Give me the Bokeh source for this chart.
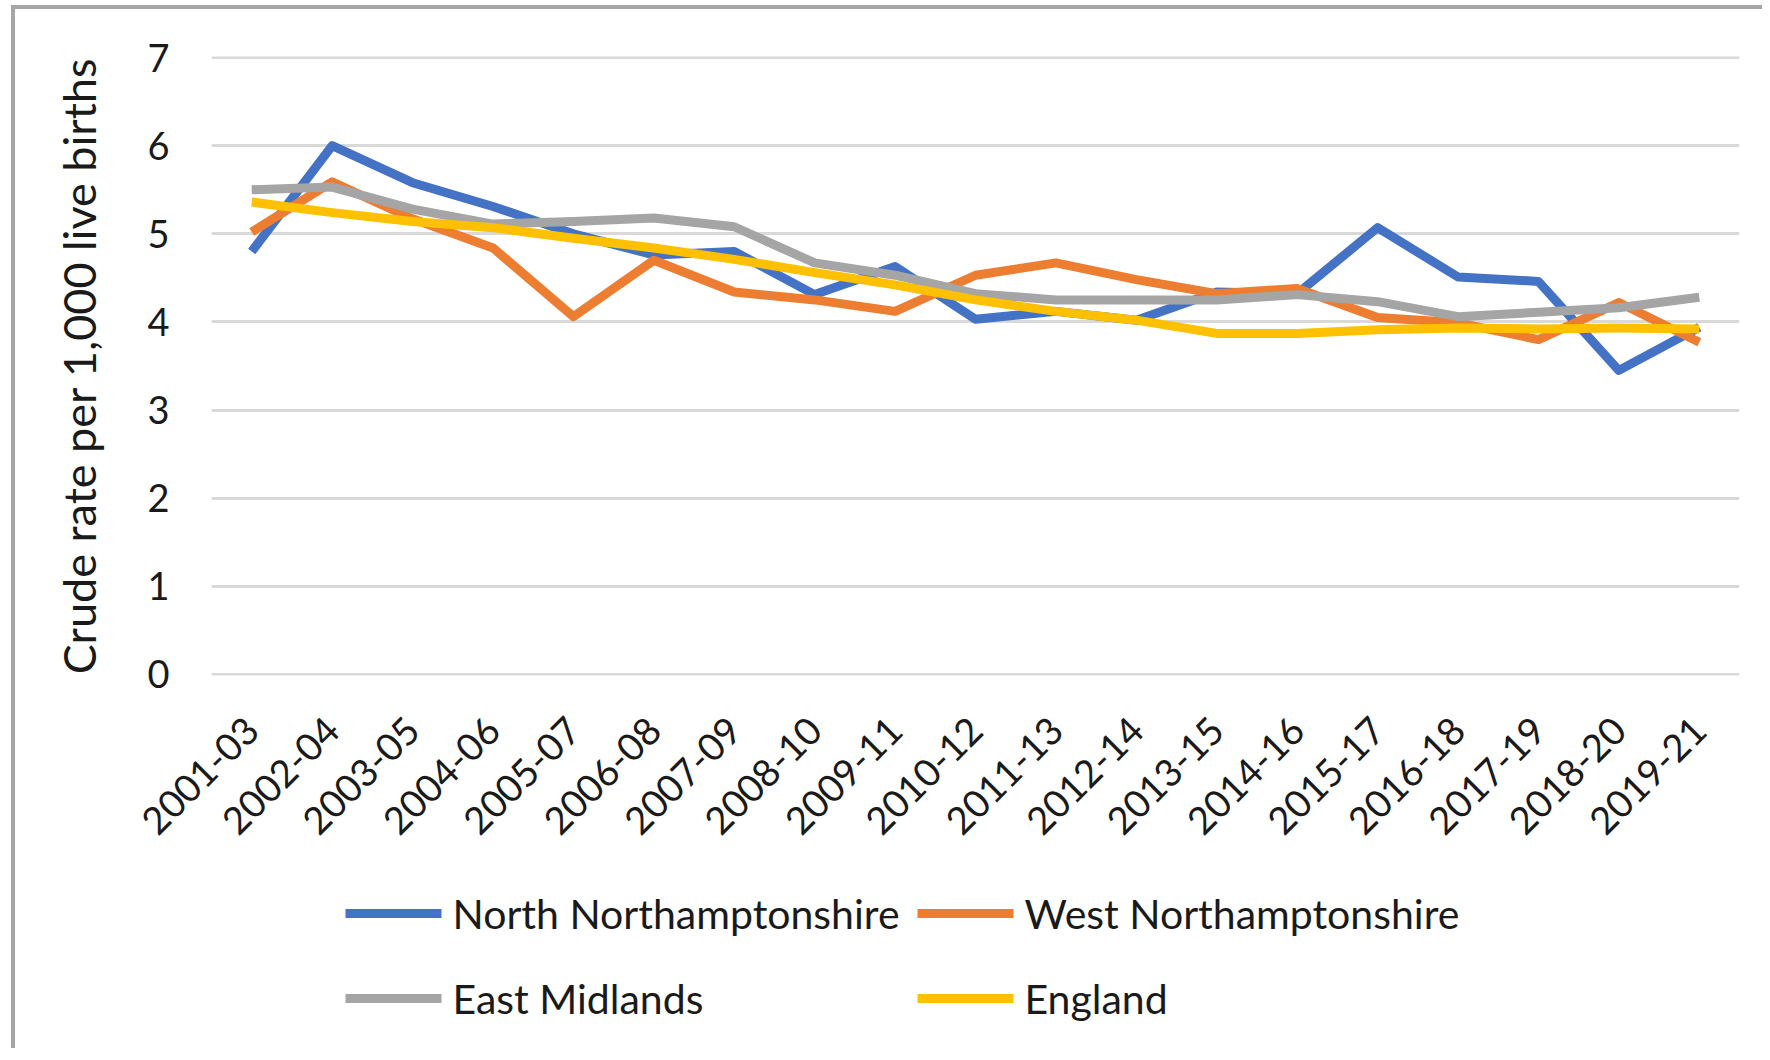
import math
from bokeh.plotting import figure
from bokeh.layouts import column
from bokeh.models import FactorRange, Range1d, FixedTicker
from bokeh.core.properties import value
from bokeh.embed import file_html
from bokeh.resources import INLINE

categories = ["2001-03", "2002-04", "2003-05", "2004-06", "2005-07", "2006-08", "2007-09",
              "2008-10", "2009-11", "2010-12", "2011-13", "2012-14", "2013-15", "2014-16",
              "2015-17", "2016-18", "2017-19", "2018-20", "2019-21"]
north_northants = [4.80, 6.00, 5.58, 5.31, 5.00, 4.76, 4.80, 4.31, 4.63, 4.03, 4.12, 4.02,
                   4.34, 4.32, 5.07, 4.51, 4.46, 3.45, 3.94]
west_northants = [5.02, 5.59, 5.17, 4.84, 4.06, 4.70, 4.34, 4.25, 4.12, 4.53, 4.67, 4.48,
                  4.32, 4.38, 4.05, 3.99, 3.80, 4.22, 3.77]
east_midlands = [5.50, 5.53, 5.28, 5.11, 5.14, 5.18, 5.08, 4.67, 4.53, 4.32, 4.25, 4.25,
                 4.25, 4.31, 4.23, 4.06, 4.11, 4.16, 4.28]
england = [5.36, 5.24, 5.14, 5.07, 4.95, 4.84, 4.71, 4.56, 4.42, 4.25, 4.12, 4.02,
           3.87, 3.87, 3.91, 3.93, 3.92, 3.93, 3.92]
y_ticks = [0, 1, 2, 3, 4, 5, 6, 7]
series_names = ["North Northamptonshire", "West Northamptonshire", "East Midlands", "England"]
series_colors = ["#4472C4", "#ED7D31", "#A5A5A5", "#FFC000"]

FONT = "Lato"
TXT = "#1a1a1a"
W = 1747
MAIN_H = 859
LEG_H = 180
FRAME_L = 196
FRAME_R = W - 23
TOP = 47

p = figure(x_range=FactorRange(*categories, range_padding=0), y_range=Range1d(-0.012, 7.012),
           width=W, height=MAIN_H, output_backend="svg", toolbar_location=None,
           min_border_left=FRAME_L, min_border_right=W - FRAME_R, min_border_top=TOP,
           min_border_bottom=MAIN_H - TOP - 619)
p.outline_line_color = None
p.background_fill_color = "white"
p.border_fill_color = "white"

p.xgrid.grid_line_color = None
p.ygrid.grid_line_color = "#d9d9d9"
p.ygrid.grid_line_width = 3

p.yaxis.ticker = FixedTicker(ticks=y_ticks)
for ax in (p.xaxis, p.yaxis):
    ax.axis_line_color = None
    ax.major_tick_line_color = None
    ax.minor_tick_line_color = None
    ax.major_label_text_font = FONT
    ax.major_label_text_font_size = "38px"
    ax.major_label_text_color = TXT
p.yaxis.major_label_standoff = 36
p.yaxis.axis_label = "Crude rate per 1,000 live births"
p.yaxis.axis_label_text_font = FONT
p.yaxis.axis_label_text_font_size = "45px"
p.yaxis.axis_label_text_font_style = "normal"
p.yaxis.axis_label_text_color = TXT
p.yaxis.axis_label_standoff = 38
p.xaxis.major_label_orientation = math.pi / 4
p.xaxis.major_label_standoff = 42

data = [north_northants, west_northants, east_midlands, england]
for vals, col in zip(data, series_colors):
    p.line(categories, vals, line_color=col, line_width=9, line_join="round")

# legend panel below the chart; its frame is aligned with the chart's frame,
# so its x range is set in figure pixels (layout positions, not data)
p2 = figure(width=W, height=LEG_H, output_backend="svg", toolbar_location=None,
            x_range=Range1d(FRAME_L, FRAME_R), y_range=Range1d(0, LEG_H),
            x_axis_location=None, y_axis_location=None,
            min_border_left=FRAME_L, min_border_right=W - FRAME_R,
            min_border_top=0, min_border_bottom=0)
p2.grid.grid_line_color = None
p2.outline_line_color = None
p2.border_fill_color = "white"
p2.background_fill_color = "white"

leg_glyph_x0 = [330, 902, 330, 902]
leg_y = [LEG_H - 45, LEG_H - 45, LEG_H - 130, LEG_H - 130]
GLYPH_W = 96
GAP = 11
p2.segment(x0=leg_glyph_x0, y0=leg_y, x1=[x + GLYPH_W for x in leg_glyph_x0], y1=leg_y,
           line_color=series_colors, line_width=9)
p2.text(x=[x + GLYPH_W + GAP for x in leg_glyph_x0], y=leg_y, text=series_names,
        text_font=value(FONT), text_font_size="41px", text_color=TXT,
        text_baseline="middle", text_align="left")

layout = column(p, p2, spacing=0,
                styles={"border-top": "4px solid #a6a6a6", "border-left": "4px solid #a6a6a6",
                        "margin-left": "11px", "margin-top": "5px"})

open("out.html", "w").write(file_html(layout, INLINE))
